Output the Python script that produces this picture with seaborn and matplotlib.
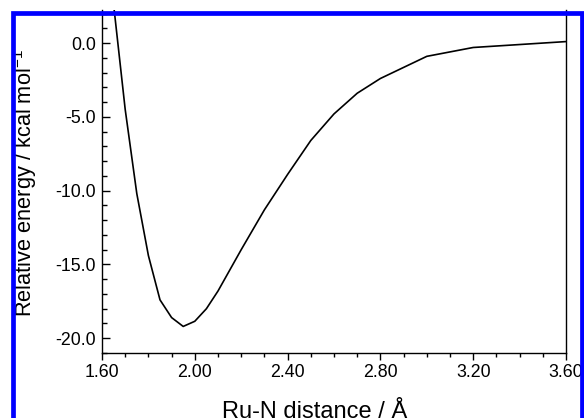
import numpy as np
import pandas as pd
import seaborn as sns
import matplotlib.pyplot as plt
from matplotlib.patches import Rectangle
from matplotlib.ticker import MultipleLocator, FormatStrFormatter

# Potential energy scan
distance = [1.65, 1.70, 1.75, 1.80, 1.85, 1.90, 1.95, 2.00, 2.05, 2.10,
            2.20, 2.30, 2.40, 2.50, 2.60, 2.70, 2.80, 3.00, 3.20, 3.60]
energy = [2.6, -4.5, -10.2, -14.4, -17.4, -18.6, -19.2, -18.85, -18.0, -16.8,
          -14.0, -11.3, -8.9, -6.6, -4.8, -3.4, -2.4, -0.9, -0.3, 0.1]

x_label = "Ru-N distance / Å"
y_label = "Relative energy / kcal mol$^{-1}$"

df = pd.DataFrame({"d": distance, "e": energy})

sns.set_style("ticks")
plt.rcParams["font.family"] = ["Liberation Sans", "DejaVu Sans"]
plt.rcParams["mathtext.fontset"] = "custom"
plt.rcParams["mathtext.rm"] = "Liberation Sans"
plt.rcParams["mathtext.it"] = "Liberation Sans:italic"
plt.rcParams["axes.unicode_minus"] = False
plt.rcParams["text.color"] = "black"
plt.rcParams["xtick.color"] = "black"
plt.rcParams["ytick.color"] = "black"
plt.rcParams["xtick.labelcolor"] = "black"
plt.rcParams["ytick.labelcolor"] = "black"

fig = plt.figure(figsize=(5.84, 4.18), dpi=100)
ax = fig.add_axes([102 / 584, 1 - 353 / 418, (566 - 102) / 584, (353 - 10) / 418])

sns.lineplot(data=df, x="d", y="e", color="black", linewidth=1.2, ax=ax)

ax.set_xlim(1.6, 3.6)
ax.set_ylim(-21.0, 2.24)
ax.xaxis.set_major_locator(MultipleLocator(0.4))
ax.xaxis.set_minor_locator(MultipleLocator(0.1))
ax.yaxis.set_major_locator(MultipleLocator(5))
ax.yaxis.set_minor_locator(MultipleLocator(1))
ax.xaxis.set_major_formatter(FormatStrFormatter("%.2f"))
ax.yaxis.set_major_formatter(FormatStrFormatter("%.1f"))

ax.tick_params(axis="x", which="major", direction="out", length=5, width=1, pad=3, labelsize=12.8)
ax.tick_params(axis="x", which="minor", direction="out", length=2.8, width=1)
ax.tick_params(axis="y", which="major", direction="in", length=5.5, width=1, pad=4.5, labelsize=12.8)
ax.tick_params(axis="y", which="minor", direction="in", length=3.5, width=1)

ax.spines["top"].set_visible(False)
for s in ["left", "right", "bottom"]:
    ax.spines[s].set_linewidth(1.0)
    ax.spines[s].set_color("black")

ax.set_xlabel("")
ax.set_ylabel("")
fig.text(315 / 584, 0 / 418, x_label, ha="center", va="baseline", fontsize=17)
fig.text(39.5 / 584, 1 - 183 / 418, y_label, ha="right", va="center", rotation=90, fontsize=15.7)

# blue frame round the figure, bottom edge cut off
frame = Rectangle((13 / 584, -2 / 418), (582 - 13) / 584, (420 - 12.5) / 418,
                  transform=fig.transFigure, fill=False, edgecolor="#0000ff",
                  linewidth=3.4, zorder=10, clip_on=False)
fig.add_artist(frame)

fig.savefig("out.png", dpi=100)
